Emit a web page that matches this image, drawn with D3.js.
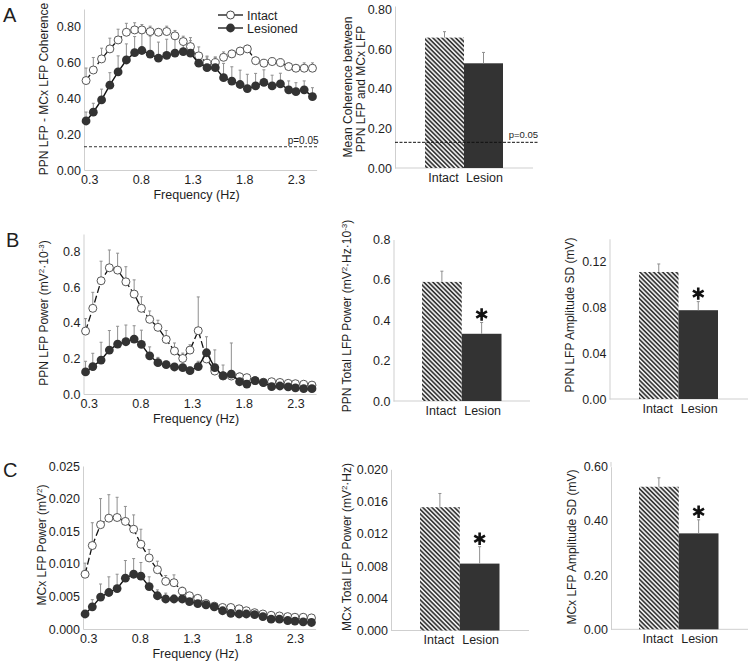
<!DOCTYPE html>
<html>
<head>
<meta charset="utf-8">
<script src="https://cdnjs.cloudflare.com/ajax/libs/d3/7.8.5/d3.min.js"></script>
<style>
  body { margin: 0; background: #fff; }
  svg text { font-family: "Liberation Sans", Arial, sans-serif; fill: #1e1e1e; }
</style>
</head>
<body>
<div id="figure"></div>
<script>
// frequency bins (Hz) shared by the three spectra
var freq = [0.27, 0.34, 0.42, 0.50, 0.58, 0.66, 0.74, 0.81, 0.89, 0.97, 1.05, 1.13, 1.21, 1.28, 1.36,
  1.44, 1.52, 1.60, 1.68, 1.76, 1.83, 1.91, 1.99, 2.07, 2.15, 2.23, 2.30, 2.38, 2.46];
var freqTicks = [0.3, 0.8, 1.3, 1.8, 2.3];

// A: coherence spectra
var cohIntact = [0.500, 0.559, 0.621, 0.677, 0.727, 0.770, 0.783, 0.783, 0.774, 0.770, 0.774, 0.750, 0.718, 0.690, 0.638,
  0.597, 0.600, 0.630, 0.649, 0.665, 0.677, 0.611, 0.597, 0.606, 0.600, 0.578, 0.569, 0.569, 0.569];
var cohIntactErr = [0.07, 0.07, 0.06, 0.06, 0.06, 0.05, 0.04, 0.03, 0.03, 0.02, 0.03, 0.03, 0.03, 0.05, 0.05,
  0.04, 0.03, 0.03, 0.02, 0.02, 0.02, 0.02, 0.02, 0.02, 0.02, 0.02, 0.02, 0.03, 0.03];
var cohLesion = [0.274, 0.323, 0.392, 0.474, 0.548, 0.615, 0.656, 0.668, 0.648, 0.625, 0.641, 0.653, 0.662, 0.653, 0.597,
  0.572, 0.572, 0.516, 0.497, 0.478, 0.455, 0.470, 0.490, 0.470, 0.481, 0.448, 0.438, 0.448, 0.410];
var cohLesionErr = [0.05, 0.05, 0.06, 0.07, 0.09, 0.09, 0.09, 0.10, 0.10, 0.09, 0.09, 0.08, 0.07, 0.07, 0.05,
  0.06, 0.06, 0.08, 0.08, 0.08, 0.08, 0.07, 0.07, 0.06, 0.06, 0.05, 0.05, 0.05, 0.05];

// B: PPN power spectra
var ppnIntact = [0.354, 0.482, 0.637, 0.710, 0.697, 0.631, 0.562, 0.482, 0.420, 0.375, 0.307, 0.242, 0.200, 0.247, 0.356,
  0.197, 0.129, 0.101, 0.101, 0.097, 0.092, 0.075, 0.066, 0.069, 0.065, 0.060, 0.058, 0.055, 0.050];
var ppnIntactErr = [0.07, 0.09, 0.11, 0.10, 0.095, 0.085, 0.08, 0.065, 0.047, 0.04, 0.05, 0.045, 0.03, 0.03, 0.19,
  0.03, 0.02, 0.02, 0.02, 0.02, 0.015, 0.015, 0.015, 0.015, 0.01, 0.01, 0.01, 0.01, 0.01];
var ppnLesion = [0.124, 0.154, 0.191, 0.247, 0.281, 0.294, 0.309, 0.279, 0.215, 0.176, 0.165, 0.152, 0.148, 0.131, 0.154,
  0.232, 0.148, 0.103, 0.112, 0.069, 0.056, 0.075, 0.064, 0.041, 0.045, 0.040, 0.035, 0.030, 0.030];
var ppnLesionErr = [0.06, 0.075, 0.10, 0.11, 0.10, 0.094, 0.075, 0.08, 0.05, 0.03, 0.02, 0.02, 0.02, 0.02, 0.03,
  0.09, 0.10, 0.06, 0.175, 0.02, 0.02, 0.02, 0.015, 0.015, 0.015, 0.01, 0.01, 0.01, 0.01];

// C: MCx power spectra
var mcxIntact = [0.0084, 0.0128, 0.0160, 0.0170, 0.0171, 0.0165, 0.0153, 0.0130, 0.0109, 0.0091, 0.0073, 0.0071, 0.0058, 0.0051, 0.0047,
  0.0039, 0.0035, 0.0033, 0.0033, 0.0031, 0.0028, 0.0025, 0.0023, 0.0021, 0.0020, 0.0019, 0.0018, 0.0018, 0.0017];
var mcxIntactErr = [0.0017, 0.0035, 0.0040, 0.0036, 0.0031, 0.0023, 0.0022, 0.0023, 0.0013, 0.0013, 0.0009, 0.0012, 0.0006, 0.0005, 0.0005,
  0.0004, 0.0004, 0.0004, 0.0004, 0.0003, 0.0003, 0.0003, 0.0003, 0.0003, 0.0003, 0.0003, 0.0003, 0.0003, 0.0003];
var mcxLesion = [0.0023, 0.0034, 0.0049, 0.0056, 0.0062, 0.0078, 0.0084, 0.0081, 0.0065, 0.0051, 0.0046, 0.0046, 0.0046, 0.0042, 0.0039,
  0.0037, 0.0034, 0.0028, 0.0024, 0.0023, 0.0023, 0.0022, 0.0019, 0.0015, 0.0015, 0.0013, 0.0012, 0.0011, 0.0010];
var mcxLesionErr = [0.0004, 0.0011, 0.0020, 0.0024, 0.0022, 0.0027, 0.0024, 0.0021, 0.0015, 0.0009, 0.0009, 0.0006, 0.0005, 0.0005, 0.0004,
  0.0004, 0.0004, 0.0003, 0.0003, 0.0003, 0.0003, 0.0003, 0.0003, 0.0002, 0.0002, 0.0002, 0.0002, 0.0002, 0.0002];

// bar summaries: [Intact, Lesion]
var groups = ["Intact", "Lesion"];
var meanCoh = [0.66, 0.53], meanCohErr = [0.03, 0.055];
var ppnTotal = [0.59, 0.333], ppnTotalErr = [0.053, 0.056];
var ppnSD = [0.111, 0.0776], ppnSDErr = [0.007, 0.0075];
var mcxTotal = [0.0153, 0.0083], mcxTotalErr = [0.0017, 0.0021];
var mcxSD = [0.526, 0.354], mcxSDErr = [0.033, 0.05];
var pLevel = 0.13;

var svg = d3.select("#figure")
  .append("svg")
  .attr("width", 750)
  .attr("height", 662);

var defs = svg.append("defs");
var hatch = defs.append("pattern")
  .attr("id", "hatch")
  .attr("patternUnits", "userSpaceOnUse")
  .attr("width", 3.2)
  .attr("height", 3.2)
  .attr("patternTransform", "rotate(-45)");
hatch.append("rect").attr("width", 3.2).attr("height", 3.2).attr("fill", "#fff");
hatch.append("line")
  .attr("x1", 1).attr("x2", 1).attr("y1", 0).attr("y2", 3.2)
  .attr("stroke", "#222").attr("stroke-width", 1.6);

var axisColor = "#cfcfcf";
var dark = "#333";

// rotated y title, parts = [[text, isSuperscript], ...]
function yTitle(x, y, parts) {
  var t = svg.append("text")
    .attr("transform", `translate(${x},${y}) rotate(-90)`)
    .attr("text-anchor", "middle")
    .attr("font-size", 12);
  var up = false;
  parts.forEach(function(p) {
    var ts = t.append("tspan").text(p[0]);
    if (p[1] && !up) { ts.attr("dy", -4).attr("font-size", 8); up = true; }
    else if (p[1]) { ts.attr("font-size", 8); }
    else if (up) { ts.attr("dy", 4); up = false; }
  });
  return t;
}

function styleAxis(g) {
  g.attr("font-size", 12.5).attr("font-family", null);
  g.select(".domain").attr("stroke", axisColor);
  g.selectAll("text").attr("fill", "#1e1e1e");
}

function errorBars(g, xs, vals, errs, x, y, cap) {
  g.selectAll(null)
    .data(vals)
    .enter()
    .append("path")
    .attr("d", function(d, i) {
      var px = x(xs[i]), y1 = y(d), y2 = y(d + errs[i]);
      return `M${px},${y1}V${y2}M${px - cap},${y2}H${px + cap}`;
    })
    .attr("fill", "none")
    .attr("stroke", "#8f8f8f")
    .attr("stroke-width", 1);
}

function lineChart(cfg) {
  var g = svg.append("g");
  var x = d3.scaleLinear().domain([0.25, 2.5]).range([cfg.axisX, cfg.axisX + 232.6]);
  var y = d3.scaleLinear().domain([0, cfg.yMax]).range([cfg.yBase, cfg.yTop]);

  var yAxis = g.append("g")
    .attr("transform", `translate(${cfg.axisX},0)`)
    .call(d3.axisLeft(y).tickValues(cfg.yTicks).tickFormat(d3.format(cfg.fmt)).tickSize(0).tickPadding(3));
  styleAxis(yAxis);

  var xAxis = g.append("g")
    .attr("transform", `translate(0,${cfg.yBase})`)
    .call(d3.axisBottom(x).tickValues(freqTicks).tickFormat(d3.format(".1f")).tickSize(0).tickPadding(5));
  styleAxis(xAxis);

  g.append("text")
    .attr("x", x(1.3) + 4)
    .attr("y", cfg.yBase + 29)
    .attr("text-anchor", "middle")
    .attr("font-size", 12.5)
    .text("Frequency (Hz)");

  if (cfg.pLine) {
    g.append("line")
      .attr("x1", cfg.axisX).attr("x2", x(2.5) + 2)
      .attr("y1", y(pLevel)).attr("y2", y(pLevel))
      .attr("stroke", dark).attr("stroke-dasharray", "3,2");
    g.append("text")
      .attr("x", x(2.5) + 2).attr("y", y(pLevel) - 3)
      .attr("text-anchor", "end").attr("font-size", 10)
      .text("p=0.05");
  }

  errorBars(g, freq, cfg.intact, cfg.intactErr, x, y, 1.5);
  errorBars(g, freq, cfg.lesion, cfg.lesionErr, x, y, 1.5);

  var line = d3.line().x((d, i) => x(freq[i])).y(d => y(d));

  g.append("path")
    .attr("d", line(cfg.intact))
    .attr("fill", "none")
    .attr("stroke", "#111")
    .attr("stroke-width", 1.3)
    .attr("stroke-dasharray", "7,3");
  g.selectAll(null)
    .data(cfg.intact)
    .enter()
    .append("circle")
    .attr("cx", (d, i) => x(freq[i]))
    .attr("cy", d => y(d))
    .attr("r", 4)
    .attr("fill", "#fff")
    .attr("stroke", "#444")
    .attr("stroke-width", 0.9);

  g.append("path")
    .attr("d", line(cfg.lesion))
    .attr("fill", "none")
    .attr("stroke", "#111")
    .attr("stroke-width", 1.4);
  g.selectAll(null)
    .data(cfg.lesion)
    .enter()
    .append("circle")
    .attr("cx", (d, i) => x(freq[i]))
    .attr("cy", d => y(d))
    .attr("r", 4.4)
    .attr("fill", dark);

  yTitle(cfg.titleX, cfg.titleY, cfg.title);
  return g;
}

function asterisk(g, cx, cy) {
  var r = 6.2;
  var d = "";
  [90, 30, 150].forEach(function(a) {
    var rad = a * Math.PI / 180;
    var dx = r * Math.cos(rad), dy = r * Math.sin(rad);
    d += `M${cx - dx},${cy - dy}L${cx + dx},${cy + dy}`;
  });
  g.append("path").attr("d", d).attr("stroke", "#111").attr("stroke-width", 2.6).attr("fill", "none");
}

function barChart(cfg) {
  var g = svg.append("g");
  var x = d3.scaleBand().domain(groups).range(cfg.band).padding(0);
  var y = d3.scaleLinear().domain([0, cfg.yMax]).range([cfg.yBase, cfg.yTop]);

  var yAxis = g.append("g")
    .attr("transform", `translate(${cfg.axisX},0)`)
    .call(d3.axisLeft(y).tickValues(cfg.yTicks).tickFormat(d3.format(cfg.fmt)).tickSize(0).tickPadding(3));
  styleAxis(yAxis);
  if (cfg.axisTop) {
    g.append("line")
      .attr("x1", cfg.axisX).attr("x2", cfg.axisX)
      .attr("y1", cfg.yTop).attr("y2", cfg.axisTop)
      .attr("stroke", axisColor);
  }

  g.append("line")
    .attr("x1", cfg.axisX).attr("x2", cfg.xEnd)
    .attr("y1", cfg.yBase).attr("y2", cfg.yBase)
    .attr("stroke", axisColor);

  var xAxis = g.append("g")
    .attr("transform", `translate(0,${cfg.yBase})`)
    .call(d3.axisBottom(x).tickSize(0).tickPadding(5));
  styleAxis(xAxis);
  xAxis.select(".domain").remove();
  xAxis.selectAll("text").attr("dx", (d, i) => i === 0 ? -1 : 1);

  g.selectAll(null)
    .data(cfg.values)
    .enter()
    .append("rect")
    .attr("x", (d, i) => x(groups[i]))
    .attr("y", d => y(d))
    .attr("width", x.bandwidth())
    .attr("height", d => cfg.yBase - y(d))
    .attr("fill", (d, i) => i === 0 ? "url(#hatch)" : dark);

  errorBars(g, groups, cfg.values, cfg.errs, d => x(d) + x.bandwidth() / 2, y, 1.5);

  if (cfg.pLine) {
    g.append("line")
      .attr("x1", cfg.axisX).attr("x2", cfg.xEnd + 5)
      .attr("y1", y(pLevel)).attr("y2", y(pLevel))
      .attr("stroke", "#111").attr("stroke-dasharray", "3,1.5");
    g.append("text")
      .attr("x", cfg.xEnd + 5).attr("y", y(pLevel) - 4)
      .attr("text-anchor", "end").attr("font-size", 9.5)
      .text("p=0.05");
  }

  if (cfg.star) {
    asterisk(g, x("Lesion") + x.bandwidth() / 2, y(cfg.values[1] + cfg.errs[1]) - 8);
  }

  cfg.titles.forEach(function(t) { yTitle(t.x, t.y, t.parts); });
  return g;
}

// ---- panel A ----
lineChart({
  axisX: 84, yBase: 170, yTop: 9, yMax: 0.9,
  yTicks: [0, 0.2, 0.4, 0.6, 0.8], fmt: ".2f",
  intact: cohIntact, intactErr: cohIntactErr, lesion: cohLesion, lesionErr: cohLesionErr,
  pLine: true,
  titleX: 48, titleY: 89, title: [["PPN LFP - MCx LFP Coherence"]]
});

// legend
var legend = svg.append("g");
[["Intact", 15], ["Lesioned", 28]].forEach(function(l, i) {
  legend.append("line")
    .attr("x1", 218).attr("x2", 243).attr("y1", l[1]).attr("y2", l[1])
    .attr("stroke", "#111").attr("stroke-width", 1.3);
  legend.append("circle")
    .attr("cx", 230.5).attr("cy", l[1]).attr("r", i === 0 ? 4 : 4.4)
    .attr("fill", i === 0 ? "#fff" : dark)
    .attr("stroke", i === 0 ? "#444" : "none");
  legend.append("text")
    .attr("x", 247).attr("y", l[1] + 4.5)
    .attr("font-size", 12.5)
    .text(l[0]);
});

barChart({
  axisX: 395, yBase: 168, yTop: 6, yMax: 0.82, band: [425, 503], xEnd: 533,
  yTicks: [0, 0.2, 0.4, 0.6, 0.8], fmt: ".2f",
  values: meanCoh, errs: meanCohErr, pLine: true,
  titles: [{x: 352, y: 87, parts: [["Mean Coherence between"]]},
           {x: 365, y: 89, parts: [["PPN LFP and MCx LFP"]]}]
});

// ---- panel B ----
lineChart({
  axisX: 83.5, yBase: 394, yTop: 234, yMax: 0.9,
  yTicks: [0, 0.2, 0.4, 0.6, 0.8], fmt: ".1f",
  intact: ppnIntact, intactErr: ppnIntactErr, lesion: ppnLesion, lesionErr: ppnLesionErr,
  titleX: 48, titleY: 313,
  title: [["PPN LFP Power (mV"], ["2", true], ["·10"], ["-3", true], [")"]]
});

barChart({
  axisX: 393.5, yBase: 401, yTop: 239.5, yMax: 0.8, band: [422, 501.5], xEnd: 530,
  yTicks: [0, 0.2, 0.4, 0.6, 0.8], fmt: ".1f",
  values: ppnTotal, errs: ppnTotalErr, star: true,
  titles: [{x: 351, y: 316, parts: [["PPN Total LFP Power (mV"], ["2", true], ["·Hz·10"], ["-3", true], [")"]]}]
});

barChart({
  axisX: 609.5, yBase: 399, yTop: 238.8, yMax: 0.14, band: [639, 718], xEnd: 748,
  yTicks: [0, 0.04, 0.08, 0.12], fmt: ".2f",
  values: ppnSD, errs: ppnSDErr, star: true,
  titles: [{x: 574, y: 315, parts: [["PPN  LFP Amplitude SD (mV)"]]}]
});

// ---- panel C ----
lineChart({
  axisX: 83, yBase: 629, yTop: 466, yMax: 0.025,
  yTicks: [0, 0.005, 0.01, 0.015, 0.02, 0.025], fmt: ".3f",
  intact: mcxIntact, intactErr: mcxIntactErr, lesion: mcxLesion, lesionErr: mcxLesionErr,
  titleX: 46, titleY: 545,
  title: [["MCx LFP Power (mV"], ["2", true], [")"]]
});

barChart({
  axisX: 391, yBase: 630.5, yTop: 469.3, yMax: 0.02, band: [420, 499.5], xEnd: 529,
  yTicks: [0, 0.004, 0.008, 0.012, 0.016, 0.02], fmt: ".3f",
  values: mcxTotal, errs: mcxTotalErr, star: true,
  titles: [{x: 351, y: 547, parts: [["MCx Total LFP Power (mV"], ["2", true], ["·Hz)"]]}]
});

barChart({
  axisX: 611, yBase: 629.3, yTop: 466.7, yMax: 0.6, band: [639, 718.5], xEnd: 748, axisTop: 462,
  yTicks: [0, 0.2, 0.4, 0.6], fmt: ".2f",
  values: mcxSD, errs: mcxSDErr, star: true,
  titles: [{x: 576, y: 547, parts: [["MCx LFP Amplitude SD (mV)"]]}]
});

// panel letters
[["A", 3, 22], ["B", 6, 247], ["C", 3, 477]].forEach(function(p) {
  svg.append("text")
    .attr("x", p[1]).attr("y", p[2])
    .attr("font-size", 20)
    .text(p[0]);
});
</script>
</body>
</html>
